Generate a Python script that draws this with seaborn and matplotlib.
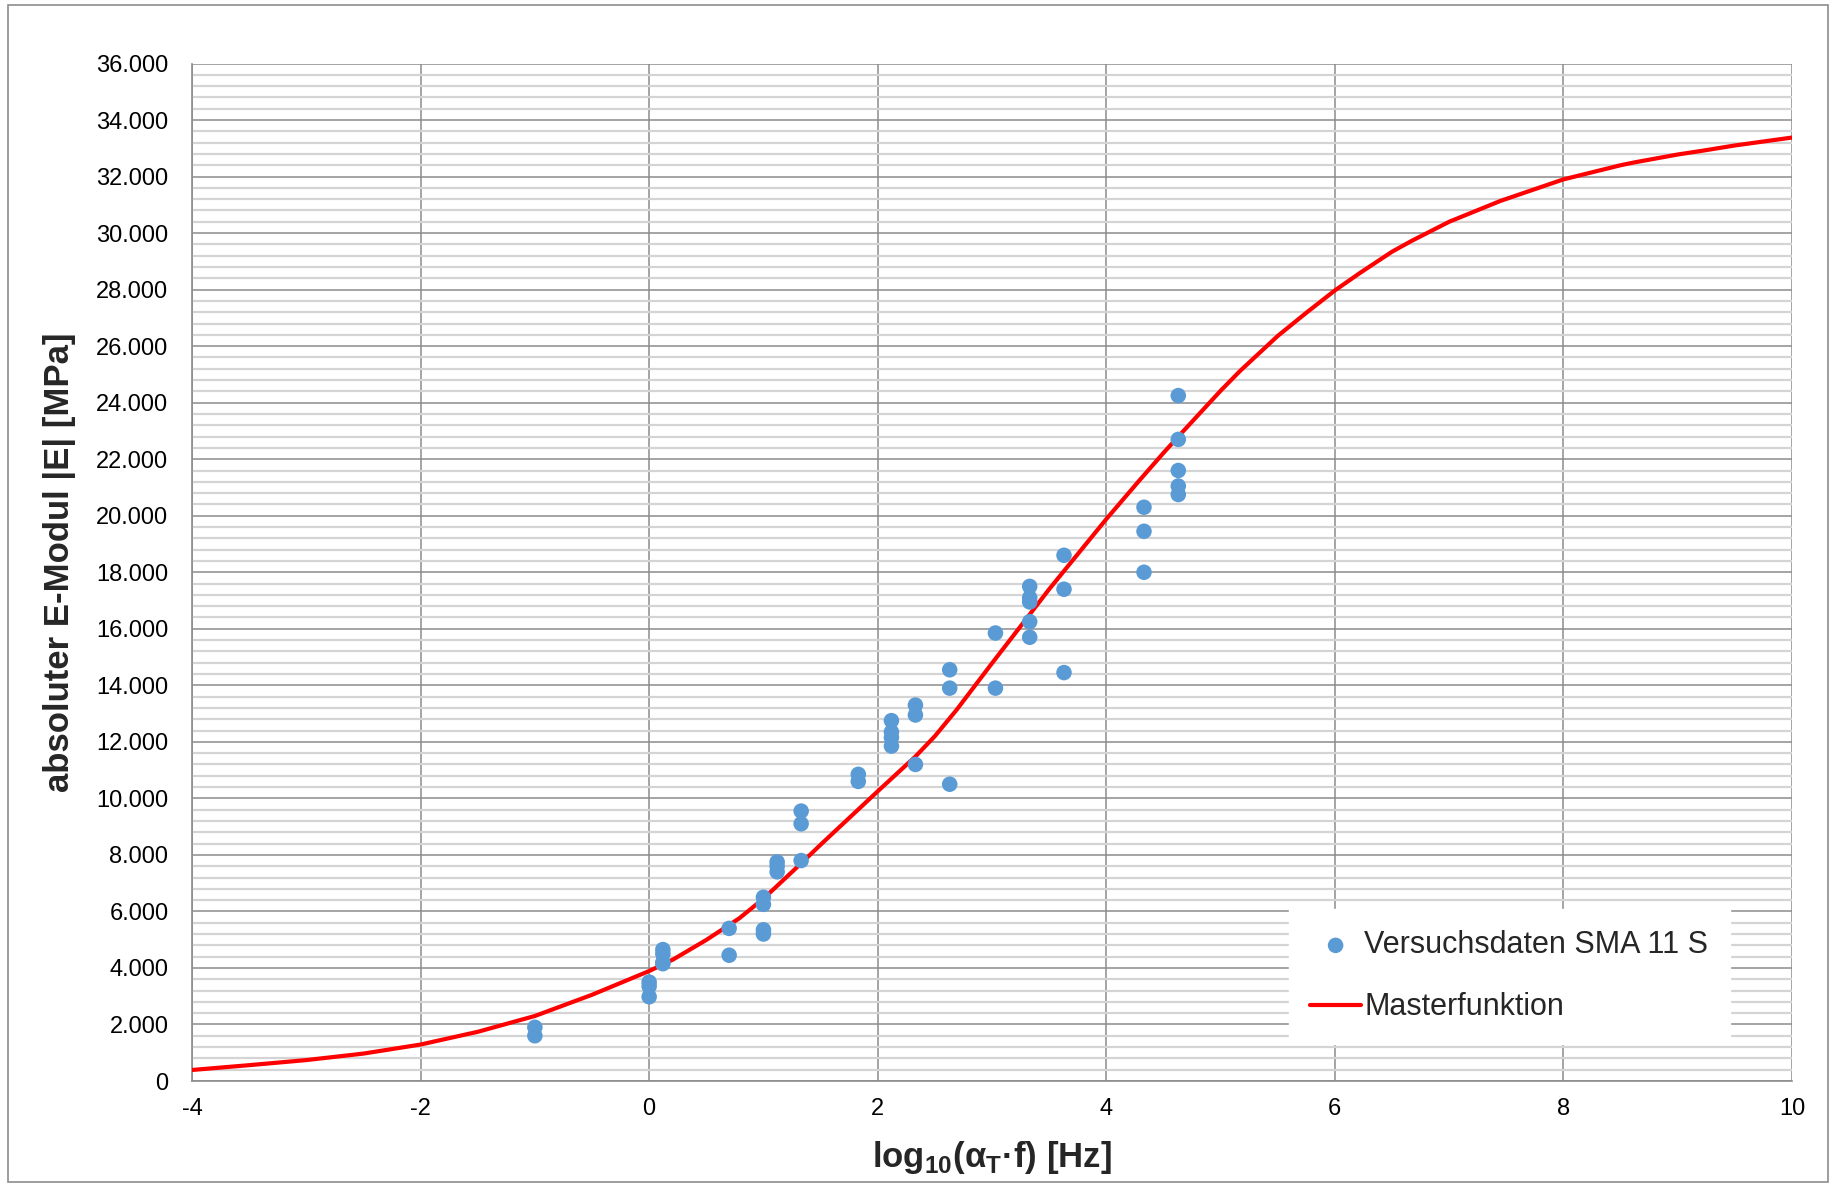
import numpy as np
import pandas as pd
import matplotlib
matplotlib.use("Agg")
import matplotlib.pyplot as plt
import seaborn as sns
from matplotlib.ticker import MultipleLocator, FuncFormatter
from matplotlib.patches import Rectangle

# ---- data ----
# measured points: log10(aT*f) and |E| in MPa
data_x = [-1.0, -1.0,
          0.0, 0.0, 0.0,
          0.12, 0.12, 0.12, 0.12,
          0.70, 0.70,
          1.0, 1.0, 1.0, 1.0,
          1.12, 1.12, 1.12,
          1.33, 1.33, 1.33,
          1.83, 1.83,
          2.12, 2.12, 2.12, 2.12,
          2.33, 2.33, 2.33,
          2.63, 2.63, 2.63,
          3.03, 3.03,
          3.33, 3.33, 3.33, 3.33, 3.33,
          3.63, 3.63, 3.63,
          4.33, 4.33, 4.33,
          4.63, 4.63, 4.63, 4.63, 4.63]
data_y = [1900, 1600,
          3500, 3350, 2980,
          4650, 4500, 4200, 4150,
          5400, 4450,
          6500, 6250, 5350, 5200,
          7750, 7600, 7400,
          9550, 9100, 7800,
          10850, 10600,
          12750, 12350, 12150, 11850,
          13300, 12950, 11200,
          14550, 13900, 10500,
          15850, 13900,
          17500, 17100, 16950, 16250, 15700,
          18600, 17400, 14450,
          20300, 19450, 18000,
          24250, 22700, 21600, 21050, 20750]

# master curve
curve_x = [-4.0, -3.5, -3.0, -2.5, -2.0, -1.5, -1.0, -0.5, 0.0, 0.21,
           0.5, 0.79, 1.0, 1.33, 1.5, 2.0, 2.33, 2.5, 2.69, 3.0,
           3.26, 3.5, 4.0, 4.29, 4.5, 4.63, 5.0, 5.17, 5.5, 5.75,
           6.0, 6.22, 6.5, 6.67, 7.0, 7.45, 8.0, 8.5, 8.62, 9.0,
           9.21, 9.5, 10.0]
curve_y = [390, 560, 740, 970, 1290, 1740, 2300, 3050, 3890, 4300,
           4990, 5760, 6450, 7700, 8360, 10250, 11480, 12200, 13130, 14780,
           16140, 17400, 19880, 21250, 22220, 22800, 24420, 25120, 26360, 27180,
           27970, 28590, 29340, 29720, 30400, 31140, 31900, 32400, 32500, 32780,
           32910, 33100, 33380]

x_ticks = [-4, -2, 0, 2, 4, 6, 8, 10]
label_points = "Versuchsdaten SMA 11 S"
label_curve = "Masterfunktion"
x_label = r"log$_{\mathbf{10}}$(α$_{\mathbf{T}}$·f) [Hz]"
y_label = "absoluter E-Modul |E| [MPa]"

pts = pd.DataFrame({"x": data_x, "y": data_y})
crv = pd.DataFrame({"x": curve_x, "y": curve_y})

sns.set_theme(style="white")
plt.rcParams["font.family"] = ["Liberation Sans", "DejaVu Sans"]
plt.rcParams["mathtext.fontset"] = "custom"
plt.rcParams["mathtext.rm"] = "Liberation Sans"
plt.rcParams["mathtext.bf"] = "Liberation Sans:bold"

W, H = 1838, 1185
fig = plt.figure(figsize=(W / 100, H / 100), dpi=100)
left, right, top, bottom = 192, 1792, 63.5, 1081
ax = fig.add_axes([left / W, 1 - bottom / H, (right - left) / W, (bottom - top) / H])

# outer frame
fig.patches.append(Rectangle((8 / W, 3 / H), 1820 / W, 1177 / H, transform=fig.transFigure,
                             fill=False, edgecolor="#8c8c8c", linewidth=1.2))

sns.lineplot(data=crv, x="x", y="y", ax=ax, color="#ff0000", linewidth=3.0,
             sort=False, estimator=None, label=label_curve, zorder=3)
sns.scatterplot(data=pts, x="x", y="y", ax=ax, color="#5b9bd5", s=125, edgecolor="none",
                label=label_points, zorder=4)
for ln in ax.get_lines():
    ln.set_solid_joinstyle("round")

ax.set_xlim(-4, 10)
ax.set_ylim(0, 36000)
ax.set_xticks(x_ticks)
ax.xaxis.set_major_formatter(FuncFormatter(lambda v, p: f"{v:.0f}"))
ax.yaxis.set_major_locator(MultipleLocator(2000))
ax.yaxis.set_minor_locator(MultipleLocator(400))
ax.yaxis.set_major_formatter(FuncFormatter(lambda v, p: f"{v:,.0f}".replace(",", ".")))

ax.grid(which="major", axis="both", color="#8c8c8c", linewidth=1.1, zorder=0)
ax.grid(which="minor", axis="y", color="#d4d4d4", linewidth=1.6, zorder=0)
ax.set_axisbelow(True)

for side in ["top", "right"]:
    ax.spines[side].set_visible(False)
for side in ["left", "bottom"]:
    ax.spines[side].set_color("#8c8c8c")
    ax.spines[side].set_linewidth(1.2)

ax.tick_params(which="major", axis="both", direction="out", length=6, width=1.1,
               color="#8c8c8c", labelsize=17, labelcolor="black")
ax.tick_params(axis="y", pad=11)
ax.tick_params(axis="x", pad=6)
ax.tick_params(which="minor", length=0)

ax.set_xlabel(x_label, fontsize=25, fontweight="bold", labelpad=14)
ax.set_ylabel(y_label, fontsize=25, fontweight="bold")
ax.yaxis.set_label_coords(-0.0725, 0.5098)

handles, labels = ax.get_legend_handles_labels()
order = [labels.index(label_points), labels.index(label_curve)]
leg = ax.legend([handles[i] for i in order], [labels[i] for i in order],
                loc="upper left", bbox_to_anchor=(1289 / W, 1 - 909 / H),
                bbox_transform=fig.transFigure, borderaxespad=0, borderpad=0.7,
                fontsize=22, frameon=True, fancybox=False, framealpha=1,
                edgecolor="white", facecolor="white", handlelength=1.65,
                handletextpad=0.12, labelspacing=1.05, markerscale=1.0)
leg.set_zorder(10)

fig.savefig("out.png", dpi=100, facecolor="white")
